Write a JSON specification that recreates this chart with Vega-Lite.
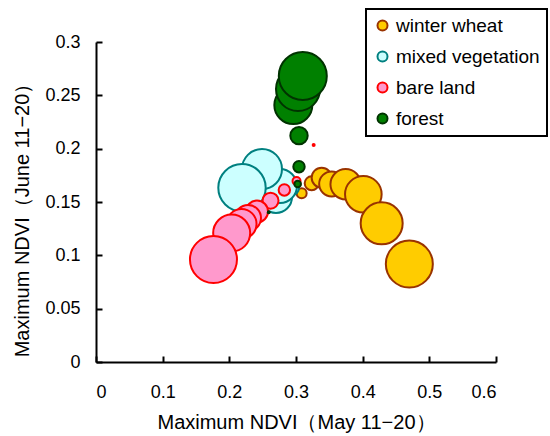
{
  "$schema": "https://vega.github.io/schema/vega-lite/v6.json",
  "width": 400,
  "height": 320,
  "autosize": {"type": "none"},
  "padding": {"left": 96, "top": 42, "right": 54, "bottom": 74},
  "background": "white",
  "config": {
    "view": {"stroke": null},
    "font": "Liberation Sans",
    "axis": {
      "grid": false,
      "domainColor": "black",
      "domainWidth": 2,
      "tickColor": "black",
      "tickWidth": 2,
      "tickSize": -6,
      "labelFontSize": 18,
      "labelColor": "black",
      "titleFontSize": 20,
      "titleFontWeight": "normal",
      "titleColor": "black"
    },
    "legend": {
      "labelFontSize": 19,
      "labelColor": "black",
      "symbolSize": 100,
      "symbolStrokeWidth": 2,
      "symbolType": "circle",
      "strokeColor": "black",
      "strokeWidth": 2,
      "padding": 7,
      "rowPadding": 11,
      "labelOffset": 4
    }
  },
  "data": {
    "values": [
      {"class": "winter wheat", "may": 0.3085, "june": 0.1582, "bubble": 4},
      {"class": "winter wheat", "may": 0.3235, "june": 0.1675, "bubble": 7.8},
      {"class": "winter wheat", "may": 0.3385, "june": 0.1728, "bubble": 16},
      {"class": "winter wheat", "may": 0.3535, "june": 0.1669, "bubble": 25},
      {"class": "winter wheat", "may": 0.3745, "june": 0.1666, "bubble": 37},
      {"class": "winter wheat", "may": 0.401, "june": 0.1572, "bubble": 53.6},
      {"class": "winter wheat", "may": 0.4285, "june": 0.130, "bubble": 70.6},
      {"class": "winter wheat", "may": 0.470, "june": 0.0919, "bubble": 88.4},
      {"class": "mixed vegetation", "may": 0.294, "june": 0.1631, "bubble": 7.8},
      {"class": "mixed vegetation", "may": 0.270, "june": 0.1547, "bubble": 41},
      {"class": "mixed vegetation", "may": 0.276, "june": 0.165, "bubble": 46},
      {"class": "mixed vegetation", "may": 0.249, "june": 0.1809, "bubble": 64},
      {"class": "mixed vegetation", "may": 0.219, "june": 0.1634, "bubble": 89.9},
      {"class": "bare land", "may": 0.3265, "june": 0.2034, "bubble": 0.16},
      {"class": "bare land", "may": 0.3008, "june": 0.1697, "bubble": 2.56},
      {"class": "bare land", "may": 0.2825, "june": 0.1613, "bubble": 5.2},
      {"class": "bare land", "may": 0.2618, "june": 0.1512, "bubble": 10.2},
      {"class": "bare land", "may": 0.2415, "june": 0.1411, "bubble": 19.4},
      {"class": "bare land", "may": 0.228, "june": 0.135, "bubble": 27},
      {"class": "bare land", "may": 0.2183, "june": 0.1294, "bubble": 36},
      {"class": "bare land", "may": 0.2035, "june": 0.1209, "bubble": 54.8},
      {"class": "bare land", "may": 0.1762, "june": 0.0961, "bubble": 88.4},
      {"class": "forest", "may": 0.2591, "june": 0.1403, "bubble": 0.16},
      {"class": "forest", "may": 0.3025, "june": 0.1669, "bubble": 1.74},
      {"class": "forest", "may": 0.3045, "june": 0.1831, "bubble": 5.2},
      {"class": "forest", "may": 0.3045, "june": 0.2122, "bubble": 12.1},
      {"class": "forest", "may": 0.296, "june": 0.2409, "bubble": 57.8},
      {"class": "forest", "may": 0.303, "june": 0.2559, "bubble": 77.4},
      {"class": "forest", "may": 0.3102, "june": 0.2681, "bubble": 92.2}
    ]
  },
  "mark": {"type": "circle", "opacity": 1, "strokeWidth": 2},
  "encoding": {
    "x": {
      "field": "may",
      "type": "quantitative",
      "scale": {"domain": [0, 0.6], "nice": false},
      "axis": {
        "title": "Maximum NDVI（May 11−20）",
        "values": [0, 0.1, 0.2, 0.3, 0.4, 0.5, 0.6],
        "format": ".2~f",
        "labelPadding": 27,
        "titleBaseline": "alphabetic",
        "titleY": 66
      }
    },
    "y": {
      "field": "june",
      "type": "quantitative",
      "scale": {"domain": [0, 0.3], "nice": false},
      "axis": {
        "title": "Maximum NDVI（June 11−20）",
        "values": [0, 0.05, 0.1, 0.15, 0.2, 0.25, 0.3],
        "format": ".2~f",
        "labelPadding": 22,
        "titleAngle": -90,
        "titleBaseline": "alphabetic",
        "titleAlign": "center",
        "titleX": -68,
        "titleY": 173
      }
    },
    "fill": {
      "field": "class",
      "type": "nominal",
      "scale": {
        "domain": ["winter wheat", "mixed vegetation", "bare land", "forest"],
        "range": ["#FFCC00", "#CCFFFF", "#FF99CC", "#008000"]
      },
      "legend": {"title": null, "orient": "none", "legendX": 270, "legendY": -33}
    },
    "stroke": {
      "field": "class",
      "type": "nominal",
      "scale": {
        "domain": ["winter wheat", "mixed vegetation", "bare land", "forest"],
        "range": ["#993300", "#008080", "#FF0000", "#003300"]
      },
      "legend": {"title": null, "orient": "none", "legendX": 270, "legendY": -33}
    },
    "size": {
      "field": "bubble",
      "type": "quantitative",
      "scale": {"type": "linear", "domain": [0, 100], "range": [0, 2500]},
      "legend": null
    }
  }
}
